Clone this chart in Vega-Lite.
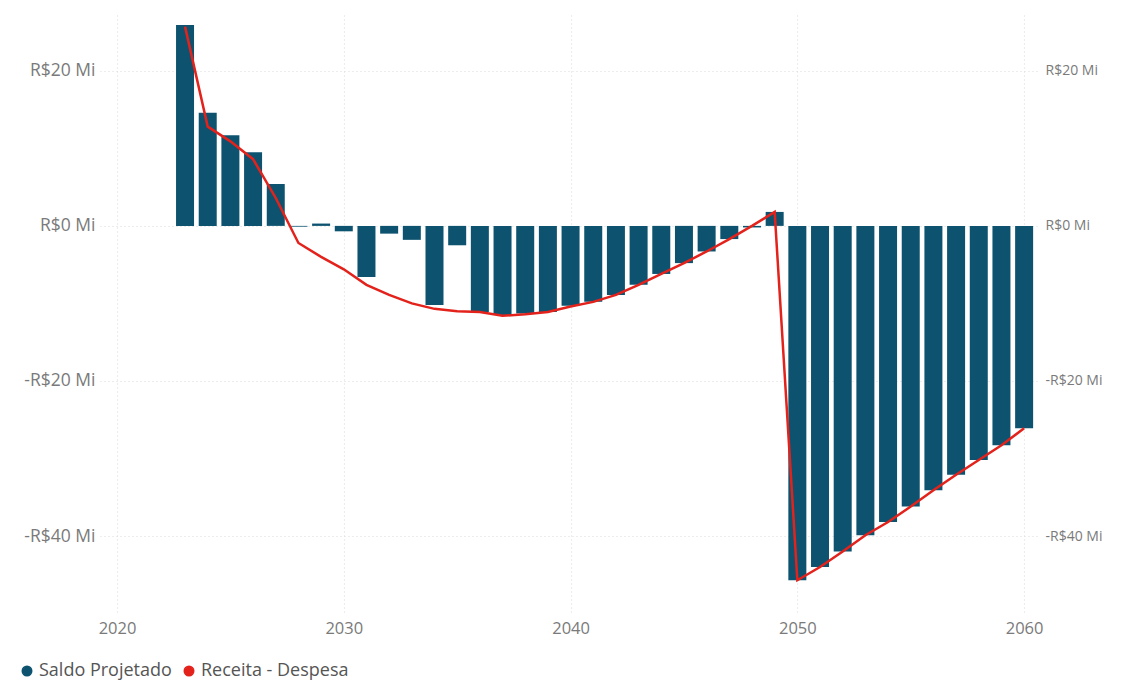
{
  "$schema": "https://vega.github.io/schema/vega-lite/v6.json",
  "width": 940,
  "height": 597,
  "autosize": {"type": "none"},
  "padding": {"left": 100, "top": 15, "right": 81, "bottom": 79},
  "background": "white",
  "config": {
    "view": {"stroke": null},
    "font": "Open Sans",
    "axis": {"labelFont": "Open Sans", "labelColor": "#7a7a7a", "domain": false, "ticks": false, "gridColor": "#dcdcdc", "gridDash": [1, 3], "gridWidth": 1.2}
  },
  "data": {
    "values": [
      {"ano": 2023, "saldo": 25.9, "receita_despesa": 25.7},
      {"ano": 2024, "saldo": 14.6, "receita_despesa": 12.8},
      {"ano": 2025, "saldo": 11.7, "receita_despesa": 10.9},
      {"ano": 2026, "saldo": 9.5, "receita_despesa": 8.6},
      {"ano": 2027, "saldo": 5.4, "receita_despesa": 3.6},
      {"ano": 2028, "saldo": -0.1, "receita_despesa": -2.2},
      {"ano": 2029, "saldo": 0.3, "receita_despesa": -4.0},
      {"ano": 2030, "saldo": -0.7, "receita_despesa": -5.6},
      {"ano": 2031, "saldo": -6.6, "receita_despesa": -7.6},
      {"ano": 2032, "saldo": -1.0, "receita_despesa": -8.9},
      {"ano": 2033, "saldo": -1.8, "receita_despesa": -10.0},
      {"ano": 2034, "saldo": -10.2, "receita_despesa": -10.7},
      {"ano": 2035, "saldo": -2.5, "receita_despesa": -11.0},
      {"ano": 2036, "saldo": -11.1, "receita_despesa": -11.1},
      {"ano": 2037, "saldo": -11.5, "receita_despesa": -11.6},
      {"ano": 2038, "saldo": -11.3, "receita_despesa": -11.4},
      {"ano": 2039, "saldo": -11.1, "receita_despesa": -11.1},
      {"ano": 2040, "saldo": -10.3, "receita_despesa": -10.4},
      {"ano": 2041, "saldo": -9.8, "receita_despesa": -9.8},
      {"ano": 2042, "saldo": -8.9, "receita_despesa": -8.9},
      {"ano": 2043, "saldo": -7.6, "receita_despesa": -7.6},
      {"ano": 2044, "saldo": -6.2, "receita_despesa": -6.2},
      {"ano": 2045, "saldo": -4.8, "receita_despesa": -4.8},
      {"ano": 2046, "saldo": -3.3, "receita_despesa": -3.3},
      {"ano": 2047, "saldo": -1.7, "receita_despesa": -1.7},
      {"ano": 2048, "saldo": -0.2, "receita_despesa": 0.0},
      {"ano": 2049, "saldo": 1.8, "receita_despesa": 1.8},
      {"ano": 2050, "saldo": -45.7, "receita_despesa": -45.7},
      {"ano": 2051, "saldo": -44.0, "receita_despesa": -44.0},
      {"ano": 2052, "saldo": -42.0, "receita_despesa": -42.0},
      {"ano": 2053, "saldo": -39.9, "receita_despesa": -39.9},
      {"ano": 2054, "saldo": -38.2, "receita_despesa": -38.2},
      {"ano": 2055, "saldo": -36.2, "receita_despesa": -36.2},
      {"ano": 2056, "saldo": -34.1, "receita_despesa": -34.1},
      {"ano": 2057, "saldo": -32.1, "receita_despesa": -32.1},
      {"ano": 2058, "saldo": -30.2, "receita_despesa": -30.2},
      {"ano": 2059, "saldo": -28.3, "receita_despesa": -28.3},
      {"ano": 2060, "saldo": -26.1, "receita_despesa": -26.1}
    ]
  },
  "encoding": {
    "x": {
      "field": "ano",
      "type": "quantitative",
      "scale": {"domain": [2019.25, 2060.7], "nice": false, "zero": false, "padding": 0},
      "axis": {"title": null, "values": [2020, 2030, 2040, 2050, 2060], "format": "d", "labelFontSize": 16.5, "labelPadding": 8, "grid": true}
    }
  },
  "layer": [
    {
      "mark": {"type": "bar", "size": 18},
      "encoding": {
        "y": {
          "field": "saldo",
          "type": "quantitative",
          "scale": {"domain": [-49.8, 27.2], "nice": false, "zero": false},
          "axis": {"title": null, "orient": "left", "values": [-40, -20, 0, 20], "labelFontSize": 17.5, "labelPadding": 5, "grid": true,
            "labelExpr": "(datum.value < 0 ? '-R$' + abs(datum.value) : 'R$' + datum.value) + ' Mi'"}
        },
        "y2": {"datum": 0},
        "color": {
          "datum": "Saldo Projetado",
          "type": "nominal",
          "scale": {"domain": ["Saldo Projetado", "Receita - Despesa"], "range": ["#0d5370", "#e3221c"]},
          "legend": {
            "title": null,
            "orient": "none",
            "direction": "horizontal",
            "legendX": -82,
            "legendY": 647,
            "symbolType": "circle",
            "symbolSize": 90,
            "labelFontSize": 18,
            "labelColor": "#555555",
            "labelFont": "Open Sans",
            "symbolOffset": 0,
            "columnPadding": 8,
            "labelOffset": 3,
            "encode": {"symbols": {"update": {"fill": {"scale": "color", "field": "value"}, "stroke": {"value": "transparent"}, "opacity": {"value": 1}}}}
          }
        }
      }
    },
    {
      "mark": {"type": "line", "strokeWidth": 2.5},
      "encoding": {
        "y": {
          "field": "receita_despesa",
          "type": "quantitative",
          "scale": {"domain": [-49.8, 27.2], "nice": false, "zero": false},
          "axis": {"title": null, "orient": "right", "values": [-40, -20, 0, 20], "labelFontSize": 14, "labelPadding": 5, "grid": false,
            "labelExpr": "(datum.value < 0 ? '-R$' + abs(datum.value) : 'R$' + datum.value) + ' Mi'"}
        },
        "color": {"datum": "Receita - Despesa", "type": "nominal"}
      }
    }
  ],
  "resolve": {"scale": {"y": "independent"}}
}
